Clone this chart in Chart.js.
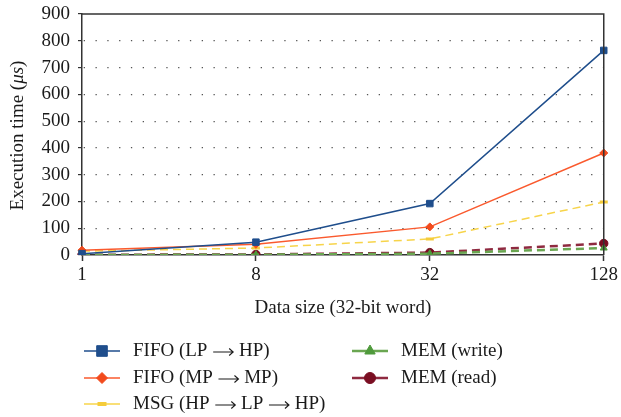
<!DOCTYPE html>
<html>
<head>
<meta charset="utf-8">
<script src="https://cdn.jsdelivr.net/npm/chart.js@4/dist/chart.umd.min.js"></script>
<style>
    html, body { margin: 0; padding: 0; background: #fff; }
    #wrap { width: 621px; height: 417px; position: relative; }
</style>
</head>
<body>
<div id="wrap"><canvas id="outputChart"></canvas></div>
<script>
// data size (32-bit word)
const sizes = ["1", "8", "32", "128"];

// execution time (us)
const fifoLpHp = [5, 48, 192, 764];
const fifoMpMp = [18, 40, 105, 381];
const msgHpLpHp = [14, 26, 60, 198];
const memWrite = [0, 1, 5, 26];
const memRead = [1, 2, 9, 43];

const yTicks = [0, 100, 200, 300, 400, 500, 600, 700, 800, 900];

const serif = "'Liberation Serif', 'DejaVu Serif', serif";

// legend drawn by hand, two columns like the original
const legendSlots = [
    { x: 84, y: 351 },  // FIFO LP
    { x: 84, y: 378 },  // FIFO MP
    { x: 84, y: 404 },  // MSG
    { x: 352, y: 351 }, // MEM write
    { x: 352, y: 378 }, // MEM read
];

// write text in pieces; arrows are drawn as thin long strokes
function drawRich(ctx, parts, x, y) {
    parts.forEach(p => {
        if (p.arrow) {
            const len = 21;
            ctx.save();
            ctx.strokeStyle = ctx.fillStyle;
            ctx.lineWidth = 1.1;
            ctx.beginPath();
            ctx.moveTo(x + 1, y + 1);
            ctx.lineTo(x + len, y + 1);
            ctx.moveTo(x + len - 4, y - 2.5);
            ctx.lineTo(x + len, y + 1);
            ctx.lineTo(x + len - 4, y + 4.5);
            ctx.stroke();
            ctx.restore();
            x += len + 1;
            return;
        }
        ctx.font = p.font;
        ctx.fillText(p.text, x, y);
        x += ctx.measureText(p.text).width;
    });
    return x;
}

function splitArrows(label) {
    const parts = [];
    label.split("\u2192").forEach((piece, i) => {
        if (i > 0) parts.push({ arrow: true });
        parts.push({ text: piece, font: "19px " + serif });
    });
    return parts;
}

const legendPlugin = {
    id: "sideLegend",
    afterDraw(chart) {
        const ctx = chart.ctx;
        chart.data.datasets.forEach((ds, i) => {
            const slot = legendSlots[i];
            ctx.save();
            ctx.strokeStyle = ds.borderColor;
            ctx.lineWidth = ds.borderWidth;
            ctx.beginPath();
            ctx.moveTo(slot.x, slot.y);
            ctx.lineTo(slot.x + 36, slot.y);
            ctx.stroke();
            ctx.fillStyle = ds.pointBackgroundColor;
            ctx.strokeStyle = ds.pointBorderColor;
            ctx.lineWidth = ds.pointStyle === "line" ? 4 : 1;
            Chart.helpers.drawPoint(ctx, {
                pointStyle: ds.pointStyle,
                radius: ds.legendRadius,
                borderWidth: ctx.lineWidth,
                rotation: 0,
            }, slot.x + 18, slot.y);
            ctx.fillStyle = "#1a1a1a";
            ctx.textBaseline = "middle";
            drawRich(ctx, splitArrows(ds.label), slot.x + 49, slot.y);
            ctx.restore();
        });
    }
};

// y title with italic unit
const yTitlePlugin = {
    id: "yTitle",
    afterDraw(chart) {
        const ctx = chart.ctx;
        const a = chart.chartArea;
        const parts = [
            { text: "Execution time (", font: "19px " + serif },
            { text: "\u03bcs", font: "italic 19px " + serif },
            { text: ")", font: "19px " + serif },
        ];
        let total = 0;
        parts.forEach(p => { ctx.font = p.font; total += ctx.measureText(p.text).width; });
        ctx.save();
        ctx.translate(18, (a.top + a.bottom) / 2 + 1);
        ctx.rotate(-Math.PI / 2);
        ctx.fillStyle = "#1a1a1a";
        ctx.textBaseline = "middle";
        drawRich(ctx, parts, -total / 2, 0);
        ctx.restore();
    }
};

// box round the plot (top and right edges)
const framePlugin = {
    id: "frame",
    afterDatasetsDraw(chart) {
        const { ctx, chartArea: a } = chart;
        ctx.save();
        ctx.strokeStyle = "#333";
        ctx.lineWidth = 1.5;
        ctx.beginPath();
        ctx.moveTo(a.left, a.top);
        ctx.lineTo(a.right, a.top);
        ctx.lineTo(a.right, a.bottom);
        ctx.stroke();
        ctx.restore();
    }
};

const context = document.querySelector("#outputChart").getContext("2d");
const outputChart = new Chart(context, {
    type: "line",
    data: {
        labels: sizes,
        datasets: [
            {
                label: "FIFO (LP \u2192 HP)",
                data: fifoLpHp,
                borderColor: "#1f4e8c",
                borderWidth: 1.5,
                pointStyle: "rect",
                pointRadius: 4.6,
                legendRadius: 7.5,
                pointBackgroundColor: "#1f4e8c",
                pointBorderColor: "#1f4e8c",
                pointBorderWidth: 1,
            },
            {
                label: "FIFO (MP \u2192 MP)",
                data: fifoMpMp,
                borderColor: "#fa5a2e",
                borderWidth: 1.5,
                pointStyle: "rectRot",
                pointRadius: 4,
                legendRadius: 5.5,
                pointBackgroundColor: "#f24a1c",
                pointBorderColor: "#f24a1c",
                pointBorderWidth: 1,
            },
            {
                label: "MSG (HP \u2192 LP \u2192 HP)",
                data: msgHpLpHp,
                borderColor: "#f7d44a",
                borderWidth: 1.5,
                borderDash: [8, 5],
                pointStyle: "line",
                pointRadius: 4,
                legendRadius: 4.5,
                pointBackgroundColor: "#f5cc3a",
                pointBorderColor: "#f5cc3a",
                pointBorderWidth: 3,
            },
            {
                label: "MEM (write)",
                data: memWrite,
                borderColor: "#6aa651",
                borderWidth: 2.5,
                borderDash: [8, 5],
                pointStyle: "triangle",
                pointRadius: 4,
                legendRadius: 6,
                pointBackgroundColor: "#4f9a3c",
                pointBorderColor: "#4f9a3c",
                pointBorderWidth: 1,
            },
            {
                label: "MEM (read)",
                data: memRead,
                borderColor: "#8f2a40",
                borderWidth: 2.5,
                borderDash: [8, 5],
                pointStyle: "circle",
                pointRadius: 4.2,
                legendRadius: 5.5,
                pointBackgroundColor: "#7a0e22",
                pointBorderColor: "#7a0e22",
                pointBorderWidth: 1,
            },
        ],
    },
    options: {
        responsive: true,
        maintainAspectRatio: false,
        animation: false,
        events: [],
        layout: {
            padding: { top: 0, right: 15, bottom: 98, left: 0 }
        },
        scales: {
            x: {
                offset: false,
                grid: {
                    display: true,
                    drawOnChartArea: false,
                    drawTicks: true,
                    tickLength: 6,
                    tickColor: "#333",
                    tickWidth: 1.5,
                },
                border: { color: "#333", width: 1.5 },
                ticks: {
                    color: "#1a1a1a",
                    font: { family: serif, size: 19 },
                    padding: 3,
                    maxRotation: 0,
                },
                title: {
                    display: true,
                    text: "Data size (32-bit word)",
                    color: "#1a1a1a",
                    font: { family: serif, size: 19 },
                    padding: { top: 6, bottom: 0 },
                },
                afterFit(scale) { scale.height = 64; }
            },
            y: {
                min: 0,
                max: 900,
                afterBuildTicks(scale) {
                    scale.ticks = yTicks.map(v => ({ value: v }));
                },
                grid: {
                    color: (c) => (c.tick && (c.tick.value === 0 || c.tick.value === 900)) ? "rgba(0,0,0,0)" : "#555",
                    lineWidth: 1.2,
                    tickColor: "#333",
                    tickLength: 4,
                    tickWidth: 1.2,
                },
                border: { color: "#333", width: 1.5, dash: [1.3, 10.5], dashOffset: -13 },
                ticks: {
                    color: "#1a1a1a",
                    font: { family: serif, size: 19, lineHeight: 1.0 },
                    padding: 8,
                },
                title: {
                    // drawn by yTitlePlugin so the unit can be italic
                    display: false,
                },
                afterFit(scale) {
                    scale.width = 82;
                    scale.paddingTop = 14;
                }
            }
        },
        plugins: {
            legend: { display: false },
            tooltip: { enabled: false },
        }
    },
    plugins: [framePlugin, yTitlePlugin, legendPlugin]
});
</script>
</body>
</html>
